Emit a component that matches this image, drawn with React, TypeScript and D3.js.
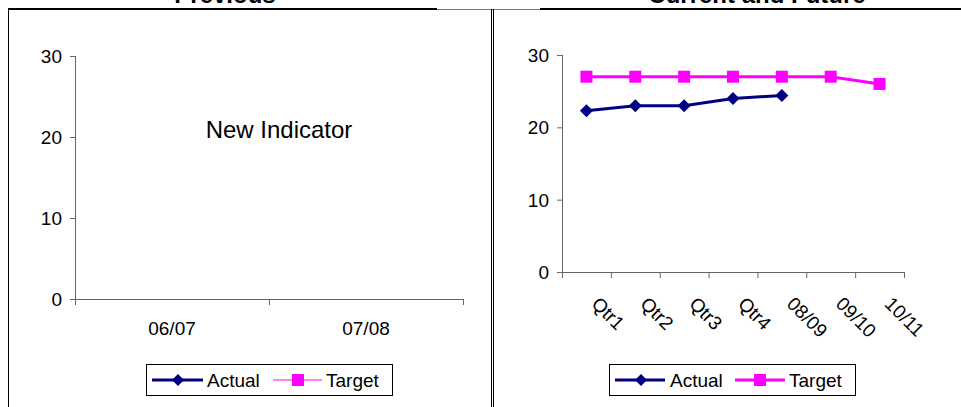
import React from "react";
import * as d3 from "d3";

const prevCategories = ["06/07", "07/08"];
const yTicks = [0, 10, 20, 30];
const curCategories = ["Qtr1", "Qtr2", "Qtr3", "Qtr4", "08/09", "09/10", "10/11"];
const actualValues: (number | null)[] = [22.3, 23, 23, 24, 24.4, null, null];
const targetValues: (number | null)[] = [27, 27, 27, 27, 27, 27, 26];

const FONT = "'Liberation Sans', Arial, sans-serif";
const NAVY = "#000080";
const MAGENTA = "#FF00FF";
const AXIS = "#666";
const FS = 19;

const diamond = (cx: number, cy: number, r: number) =>
  `M${cx},${cy - r}L${cx + r},${cy}L${cx},${cy + r}L${cx - r},${cy}Z`;

export default function App() {
  const xL = d3.scaleBand<string>().domain(prevCategories).range([75, 463]).padding(0);
  const yL = d3.scaleLinear().domain([0, 30]).range([299, 56]);
  const xR = d3.scaleBand<string>().domain(curCategories).range([562, 904]).padding(0);
  const yR = d3.scaleLinear().domain([0, 30]).range([272, 55]);

  const lineGen = d3
    .line<{ c: string; v: number | null }>()
    .defined((d) => d.v !== null)
    .x((d) => (xR(d.c) as number) + xR.bandwidth() / 2)
    .y((d) => yR(d.v as number));

  const actualData = curCategories.map((c, i) => ({ c, v: actualValues[i] }));
  const targetData = curCategories.map((c, i) => ({ c, v: targetValues[i] }));

  const xLTicks = [...prevCategories.map((c) => xL(c) as number), 463];
  const xRTicks = [...curCategories.map((c) => xR(c) as number), 904];

  return (
    <svg
      width={961}
      height={407}
      style={{ position: "absolute", left: 0, top: 0, background: "#fff" }}
      fontFamily={FONT}
    >
      <line x1={8} y1={9} x2={437} y2={9} stroke="#000" strokeWidth={2} />
      <line x1={437} y1={9.5} x2={540} y2={9.5} stroke="#777" strokeWidth={1} />
      <line x1={540} y1={9} x2={961} y2={9} stroke="#000" strokeWidth={2} />
      <line x1={8.5} y1={10} x2={8.5} y2={407} stroke="#000" strokeWidth={1} />
      <line x1={491.5} y1={9} x2={491.5} y2={407} stroke="#000" strokeWidth={1} />
      <line x1={493.5} y1={9} x2={493.5} y2={407} stroke="#000" strokeWidth={1} />

      <text x={225} y={3} textAnchor="middle" fontWeight="bold" fontSize={24}>Previous</text>
      <text x={757} y={3} textAnchor="middle" fontWeight="bold" fontSize={24}>Current and Future</text>

      {/* LEFT CHART */}
      <line x1={75.5} y1={yL(30)} x2={75.5} y2={305} stroke={AXIS} />
      <line x1={75} y1={yL(0) + 0.5} x2={463} y2={yL(0) + 0.5} stroke={AXIS} />
      {yTicks.map((t) => (
        <g key={"yl" + t}>
          <line x1={70} x2={75} y1={yL(t) + 0.5} y2={yL(t) + 0.5} stroke={AXIS} />
          <text x={62} y={yL(t) + 7} textAnchor="end" fontSize={FS}>{t}</text>
        </g>
      ))}
      {xLTicks.map((x, i) => (
        <line key={"xlt" + i} x1={x + 0.5} x2={x + 0.5} y1={yL(0)} y2={305} stroke={AXIS} />
      ))}
      {prevCategories.map((c) => (
        <text key={c} x={(xL(c) as number) + xL.bandwidth() / 2} y={335} textAnchor="middle" fontSize={FS}>{c}</text>
      ))}
      <text x={279} y={138} textAnchor="middle" fontSize={24}>New Indicator</text>

      {/* left legend */}
      <rect x={146.5} y={364.5} width={246} height={31} fill="#fff" stroke="#000" />
      <line x1={152} x2={203} y1={380} y2={380} stroke={NAVY} strokeWidth={3} />
      <path d={diamond(178, 380, 6)} fill={NAVY} />
      <text x={207} y={387} fontSize={FS}>Actual</text>
      <line x1={273} x2={322} y1={380} y2={380} stroke={MAGENTA} strokeWidth={1.2} />
      <rect x={292} y={374} width={12} height={12} fill={MAGENTA} />
      <text x={326} y={387} fontSize={FS}>Target</text>

      {/* RIGHT CHART */}
      <line x1={562.5} y1={yR(30)} x2={562.5} y2={278} stroke={AXIS} />
      <line x1={562} y1={yR(0) + 0.5} x2={904} y2={yR(0) + 0.5} stroke={AXIS} />
      {yTicks.map((t) => (
        <g key={"yr" + t}>
          <line x1={557} x2={562} y1={yR(t) + 0.5} y2={yR(t) + 0.5} stroke={AXIS} />
          <text x={549} y={yR(t) + 7} textAnchor="end" fontSize={FS}>{t}</text>
        </g>
      ))}
      {xRTicks.map((x, i) => (
        <line key={"xrt" + i} x1={x + 0.5} x2={x + 0.5} y1={yR(0)} y2={278} stroke={AXIS} />
      ))}
      {curCategories.map((c) => {
        const cx = (xR(c) as number) + xR.bandwidth() / 2;
        return (
          <text key={c} transform={`translate(${cx + 4},${305}) rotate(45)`} fontSize={FS}>{c}</text>
        );
      })}

      <path d={lineGen(targetData) || ""} fill="none" stroke={MAGENTA} strokeWidth={3} />
      <path d={lineGen(actualData) || ""} fill="none" stroke={NAVY} strokeWidth={3} />
      {targetData.filter((d) => d.v !== null).map((d) => {
        const cx = (xR(d.c) as number) + xR.bandwidth() / 2;
        return <rect key={"t" + d.c} x={cx - 6} y={yR(d.v as number) - 6} width={12} height={12} fill={MAGENTA} />;
      })}
      {actualData.filter((d) => d.v !== null).map((d) => {
        const cx = (xR(d.c) as number) + xR.bandwidth() / 2;
        return <path key={"a" + d.c} d={diamond(cx, yR(d.v as number), 6.5)} fill={NAVY} />;
      })}

      {/* right legend */}
      <rect x={609.5} y={364.5} width={246} height={31} fill="#fff" stroke="#000" />
      <line x1={615} x2={665} y1={380} y2={380} stroke={NAVY} strokeWidth={3} />
      <path d={diamond(641, 380, 6)} fill={NAVY} />
      <text x={670} y={387} fontSize={FS}>Actual</text>
      <line x1={735} x2={785} y1={380} y2={380} stroke={MAGENTA} strokeWidth={3} />
      <rect x={754} y={374} width={12} height={12} fill={MAGENTA} />
      <text x={789} y={387} fontSize={FS}>Target</text>
    </svg>
  );
}
